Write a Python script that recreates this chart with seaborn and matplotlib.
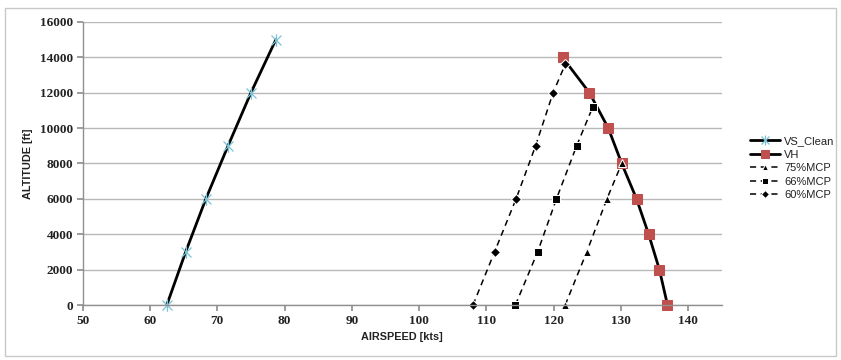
import matplotlib
matplotlib.use("Agg")
import matplotlib.pyplot as plt
from matplotlib.patches import Rectangle
from matplotlib.path import Path
import seaborn as sns
import pandas as pd

# ---- data ----
vs_clean_speed = [62.5, 65.3, 68.3, 71.6, 75.0, 78.7]
vs_clean_alt = [0, 3000, 6000, 9000, 12000, 15000]

vh_speed = [136.9, 135.7, 134.1, 132.3, 130.1, 128.1, 125.3, 121.3]
vh_alt = [0, 2000, 4000, 6000, 8000, 10000, 12000, 14000]

mcp75_speed = [121.7, 124.9, 127.9, 130.1]
mcp75_alt = [0, 3000, 6000, 8000]

mcp66_speed = [114.3, 117.6, 120.4, 123.4, 125.8]
mcp66_alt = [0, 3000, 6000, 9000, 11200]

mcp60_speed = [108.0, 111.2, 114.4, 117.3, 119.9, 121.7]
mcp60_alt = [0, 3000, 6000, 9000, 12000, 13600]

x_ticks = [50, 60, 70, 80, 90, 100, 110, 120, 130, 140]
y_ticks = list(range(0, 16001, 2000))

sns.set_theme(style="white")
plt.rcParams['font.family'] = ['Liberation Sans', 'DejaVu Sans']

fig = plt.figure(figsize=(8.41, 3.60), dpi=100)
ax = fig.add_axes([82.7 / 841, 55 / 360, (722 - 82.7) / 841, (305 - 22) / 360])

# outer chart border
fig.patches.append(Rectangle((5 / 841, 4 / 360), 831 / 841, 348 / 360,
                             transform=fig.transFigure, fill=False,
                             edgecolor="#c8c8c8", linewidth=1.0))

# Excel-style star marker: an X with a vertical bar
star = Path([(-1, -1), (1, 1), (-1, 1), (1, -1), (0, -1.25), (0, 1.25)],
            [Path.MOVETO, Path.LINETO, Path.MOVETO, Path.LINETO, Path.MOVETO, Path.LINETO])

def draw(x, y, label, **kw):
    df = pd.DataFrame({"x": x, "y": y})
    sns.lineplot(data=df, x="x", y="y", ax=ax, sort=False, estimator=None,
                 label=label, clip_on=False, **kw)

draw(vs_clean_speed, vs_clean_alt, "VS_Clean", color="black", linewidth=2,
     marker=star, markersize=9, markeredgecolor="#7cc3d6",
     markerfacecolor="none", markeredgewidth=0.9)
draw(vh_speed, vh_alt, "VH", color="black", linewidth=2,
     marker="s", markersize=7.5, markeredgecolor="#c0504d",
     markerfacecolor="#c0504d")
draw(mcp75_speed, mcp75_alt, "75%MCP", color="black", linewidth=1.1,
     linestyle=(0, (4, 3)), marker="^", markersize=6)
draw(mcp66_speed, mcp66_alt, "66%MCP", color="black", linewidth=1.1,
     linestyle=(0, (4, 3)), marker="s", markersize=5.5)
draw(mcp60_speed, mcp60_alt, "60%MCP", color="black", linewidth=1.1,
     linestyle=(0, (4, 3)), marker="D", markersize=5)

ax.set_xlim(50, 145)
ax.set_ylim(0, 16000)
ax.set_xticks(x_ticks)
ax.set_yticks(y_ticks)
ax.yaxis.grid(True, color="#b8b8b8", linewidth=1)
ax.xaxis.grid(False)
ax.set_axisbelow(True)
for s in ["top", "right"]:
    ax.spines[s].set_visible(False)
for s in ["left", "bottom"]:
    ax.spines[s].set_color("#909090")
    ax.spines[s].set_linewidth(1)
ax.tick_params(axis="both", which="major", direction="out", length=4,
               color="#909090", labelsize=9.5, labelcolor="#222222", pad=3,
               bottom=True, left=True)
for lab in ax.get_xticklabels() + ax.get_yticklabels():
    lab.set_fontweight("bold")
    lab.set_family(["Liberation Serif", "DejaVu Serif"])

ax.set_xlabel("AIRSPEED [kts]", fontsize=7.8, fontweight="bold", color="#222222", labelpad=4)
ax.set_ylabel("ALTITUDE [ft]", fontsize=7.8, fontweight="bold", color="#222222", labelpad=5)

handles, labels = ax.get_legend_handles_labels()
leg = ax.legend(handles, labels, loc="upper left", bbox_to_anchor=(750 / 841, (360 - 136) / 360),
                bbox_transform=fig.transFigure, frameon=False, fontsize=8,
                handlelength=2.7, handletextpad=0.4, labelspacing=0.32,
                borderaxespad=0, borderpad=0, markerscale=0.8)
for t in leg.get_texts():
    t.set_color("#222222")

fig.savefig("out.png", dpi=100)
